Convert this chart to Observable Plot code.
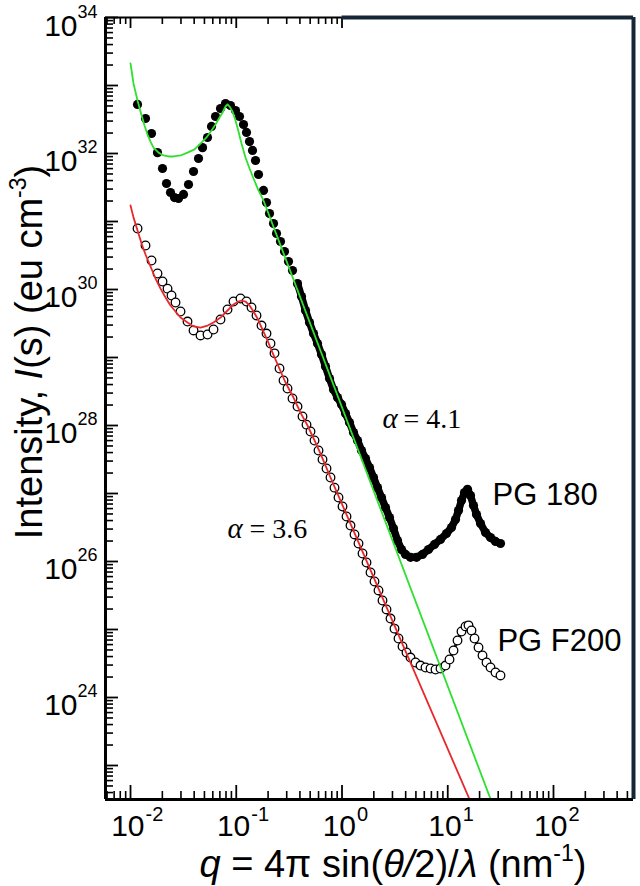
<!DOCTYPE html>
<html>
<head>
<meta charset="utf-8">
<script src="https://cdn.jsdelivr.net/npm/d3@7"></script>
<script src="https://cdn.jsdelivr.net/npm/@observablehq/plot@0.6"></script>
<style>
  html, body { margin: 0; padding: 0; background: #fff; }
  #chart { width: 640px; height: 886px; }
</style>
</head>
<body>
<div id="chart"></div>
<script>
// PG 180: scattering vector q (nm^-1) and intensity I (eu cm^-3), filled dots
const pg180Q = [0.01165,0.01386,0.0158,0.018,0.02007,0.0219,0.02389,0.02607,0.02843,0.03171,0.03536,0.03943,0.04395,0.04797,0.05348,0.05834,0.06366,0.07097,0.07911,0.08822,0.09838,0.1073,0.1171,0.125,0.1335,0.1425,0.1521,0.1623,0.181,0.1932,0.2063,0.2251,0.2403,0.262,0.286,0.312,0.3403,
  0.3795,0.414,0.4518,0.4928,0.5377,0.5866,0.6399,0.6982,0.7617,0.831,0.9067,0.9893,1.079,1.177,1.285,1.402,1.529,1.668,1.82,1.986,2.167,2.363,2.578,2.813,3.069,3.349,3.653,3.985,4.444,5.064,5.771,6.577,7.494,8.541,9.732,10.85,11.84,12.64,13.49,14.4,15.38,16.41,17.52,18.71,20.41,22.75,25.38,28.29,31.54];
const pg180I = [5.26e32,3.27e32,1.97e32,1.03e32,6.02e31,3.62e31,2.67e31,2.25e31,2.18e31,2.5e31,3.5e31,5.44e31,8.44e31,1.22e32,1.72e32,2.5e32,3.5e32,4.59e32,5.44e32,5.08e32,4.29e32,3.5e32,2.67e32,2.04e32,1.5e32,1.11e32,7.89e31,4.91e31,2.86e31,1.9e31,1.31e31,9.35e30,6.66e30,5.08e30,3.62e30,2.58e30,1.9e30,
  1.22e30,7.89e29,4.91e29,3.27e29,2.25e29,1.61e29,1.11e29,7.37e28,4.91e28,3.38e28,2.58e28,2.04e28,1.5e28,1.11e28,7.89e27,6.02e27,4.29e27,3.27e27,2.41e27,1.72e27,1.22e27,8.73e26,6.22e26,4.44e26,3.06e26,2.04e26,1.5e26,1.27e26,1.15e26,1.15e26,1.27e26,1.5e26,1.78e26,2.11e26,2.58e26,3.16e26,4.15e26,5.62e26,7.89e26,1.03e27,1.15e27,9.35e26,6.66e26,4.91e26,3.62e26,2.67e26,2.25e26,1.97e26,1.84e26];

// PG F200: open circles
const pgF200Q = [0.01165,0.01386,0.0158,0.018,0.02007,0.02239,0.02442,0.02664,0.0297,0.03459,0.03943,0.04591,0.05348,0.06094,0.07097,0.0827,0.09419,0.1097,0.125,0.1394,0.1554,0.1733,0.1932,0.2108,0.23,0.2565,0.2798,0.3052,0.3403,0.3795,0.4231,0.4616,0.5036,0.5495,0.5995,0.654,0.7136,0.7785,
  0.8494,0.9266,1.011,1.103,1.203,1.313,1.432,1.563,1.705,1.86,2.029,2.214,2.415,2.635,2.875,3.137,3.423,3.734,4.073,4.444,4.955,5.526,6.162,6.869,7.66,8.541,9.522,10.39,11.34,12.37,13.49,14.72,15.71,16.77,17.91,19.54,21.32,23.26,25.38,28.29,31.54];
const pgF200I = [7.89e30,4.44e30,2.67e30,1.72e30,1.31e30,1.03e30,8.16e29,6.44e29,4.75e29,3.38e29,2.5e29,2.11e29,2.18e29,2.58e29,3.62e29,5.08e29,6.66e29,7.37e29,6.66e29,5.44e29,4.15e29,2.95e29,2.25e29,1.61e29,1.15e29,6.89e28,4.59e28,3.5e28,2.5e28,1.9e28,1.36e28,1.03e28,8.16e27,6.02e27,4.29e27,3.16e27,2.33e27,1.72e27,
  1.22e27,8.73e26,6.44e26,4.59e26,3.38e26,2.5e26,1.84e26,1.31e26,9.67e25,6.89e25,5.08e25,3.75e25,2.67e25,1.97e25,1.45e25,1.03e25,7.37e24,5.62e24,4.59e24,3.87e24,3.27e24,2.95e24,2.76e24,2.67e24,2.58e24,2.67e24,2.95e24,3.62e24,4.91e24,6.89e24,9.35e24,1.11e25,1.15e25,9.67e24,7.37e24,5.44e24,4.15e24,3.27e24,2.76e24,2.33e24,2.11e24];

// Model fits: green for PG 180 (power-law tail, alpha = 4.1), red for PG F200 (alpha = 3.6)
const fit180Q = [0.01,0.01067,0.01165,0.01243,0.01356,0.01448,0.01546,0.01651,0.0184,0.02051,0.02288,0.02551,0.0297,0.03459,0.0403,0.04591,0.05233,0.05834,0.06366,0.06944,0.07413,0.07911,0.0827,0.08636,0.09216,0.09838,0.105,0.1121,0.1223,0.1335,0.1456,0.1623,0.181,25.5];
const fit180I = [2.11e33,1.07e33,6.02e32,4.15e32,2.58e32,1.9e32,1.5e32,1.22e32,1.03e32,9.35e31,9.04e31,9.04e31,9.35e31,1.03e32,1.15e32,1.4e32,1.72e32,2.18e32,2.67e32,3.38e32,4.01e32,4.91e32,5.26e32,4.91e32,4.15e32,3.06e32,2.11e32,1.4e32,8.73e31,6.02e31,4.29e31,2.86e31,2.04e31,3.16e22];
const fitF200Q = [0.01,0.01067,0.01165,0.01271,0.01386,0.01546,0.01724,0.01922,0.02143,0.02389,0.02664,0.0297,0.03459,0.03943,0.04591,0.05348,0.06094,0.07097,0.0827,0.09419,0.105,0.1121,0.1223,0.1335,0.1456,0.1588,0.1771,0.1974,0.2202,0.2509,0.2922,0.3478,0.4052,0.4718,0.5495,0.6262,0.7785,16.1];
const fitF200I = [1.72e31,1.15e31,7.37e30,4.75e30,3.27e30,2.18e30,1.45e30,1.03e30,7.63e29,5.82e29,4.75e29,3.87e29,3.27e29,2.86e29,2.76e29,2.95e29,3.27e29,3.87e29,4.91e29,6.02e29,6.66e29,6.89e29,6.66e29,5.82e29,4.75e29,3.75e29,2.58e29,1.78e29,1.18e29,7.37e28,4.29e28,2.58e28,1.55e28,1.0e28,6.02e27,3.87e27,1.72e27,3.16e22];

// Labelled decades on each axis
const xTickLabels = [1e-2, 1e-1, 1e0, 1e1, 1e2];
const yTickLabels = [1e24, 1e26, 1e28, 1e30, 1e32, 1e34];

const xDomain = [0.0058, 571];
const yDomain = [3.162e22, 1e34];

const sans = "'Liberation Sans', Arial, Helvetica, sans-serif";
const serif = "'Liberation Serif', 'Times New Roman', serif";

const W = 640, H = 886, mL = 105, mR = 7, mT = 17, mB = 87;
const FW = W - mL - mR, FH = H - mT - mB;

const rows = (Q, I) => Q.map((q, i) => ({q, I: I[i]}));
const pg180 = rows(pg180Q, pg180I);
const pgF200 = rows(pgF200Q, pgF200I);
const fit180 = rows(fit180Q, fit180I);
const fitF200 = rows(fitF200Q, fitF200I);

const isDecade = v => Math.abs(Math.log10(v) - Math.round(Math.log10(v))) < 1e-6;
const xTicks = d3.scaleLog().domain(xDomain).ticks(30);
const yTicks = d3.scaleLog().domain(yDomain).ticks(60);
const expo = d => String(Math.round(Math.log10(d)));

const ink = "#000";
const navy = "#142638";

const plot = Plot.plot({
  width: W, height: H,
  marginLeft: mL, marginRight: mR, marginTop: mT, marginBottom: mB,
  style: {background: "#fff", fontFamily: sans},
  x: {type: "log", domain: xDomain, axis: null},
  y: {type: "log", domain: yDomain, axis: null},
  marks: [
    // measured intensities (dense high-q runs drawn as a band under the symbols)
    Plot.line(pg180.filter(d => d.q >= 0.37), {x: "q", y: "I", stroke: ink, strokeWidth: 7.5, strokeLinejoin: "round", strokeLinecap: "round"}),
    Plot.dot(pg180, {x: "q", y: "I", r: 4.6, fill: ink, stroke: "none"}),
    Plot.line(pgF200.filter(d => d.q >= 0.8), {x: "q", y: "I", stroke: "#222", strokeWidth: 3, strokeLinejoin: "round"}),
    Plot.dot(pgF200, {x: "q", y: "I", r: 4.3, fill: "#fff", stroke: ink, strokeWidth: 1.3}),
    // fitted curves
    Plot.line(fit180, {x: "q", y: "I", stroke: "#2fe02f", strokeWidth: 1.8, clip: true}),
    Plot.line(fitF200, {x: "q", y: "I", stroke: "#e8282a", strokeWidth: 1.8, clip: true}),

    // inward ticks: bottom
    Plot.tickX(xTicks.filter(v => !isDecade(v)), {x: d => d, insetTop: FH - 8, stroke: ink, strokeWidth: 1.6}),
    Plot.tickX(xTicks.filter(isDecade), {x: d => d, insetTop: FH - 14, stroke: ink, strokeWidth: 1.8}),
    // top ticks stop at q = 1
    Plot.tickX(xTicks.filter(v => v <= 1.0001 && !isDecade(v)), {x: d => d, insetBottom: FH - 7, stroke: ink, strokeWidth: 1.6}),
    Plot.tickX(xTicks.filter(v => v <= 1.0001 && isDecade(v)), {x: d => d, insetBottom: FH - 11, stroke: ink, strokeWidth: 1.8}),
    // left ticks
    Plot.tickY(yTicks.filter(v => !isDecade(v)), {y: d => d, insetRight: FW - 8, stroke: ink, strokeWidth: 1.6}),
    Plot.tickY(yTicks.filter(isDecade), {y: d => d, insetRight: FW - 13, stroke: ink, strokeWidth: 1.8}),

    // frame
    Plot.ruleY([yDomain[1]], {x1: xDomain[0], x2: 1, stroke: ink, strokeWidth: 2}),
    Plot.ruleY([yDomain[1]], {x1: 1, x2: xDomain[1], stroke: navy, strokeWidth: 4}),
    Plot.ruleX([xDomain[1]], {stroke: navy, strokeWidth: 4}),
    Plot.ruleX([xDomain[0]], {stroke: ink, strokeWidth: 3}),
    Plot.ruleY([yDomain[0]], {stroke: ink, strokeWidth: 3}),

    // tick labels 10^n
    Plot.text(xTickLabels, {x: d => d, frameAnchor: "bottom", text: () => "10", textAnchor: "end", lineAnchor: "bottom", dx: 14, dy: 36, fontSize: 30, fill: ink}),
    Plot.text(xTickLabels, {x: d => d, frameAnchor: "bottom", text: expo, textAnchor: "start", lineAnchor: "bottom", dx: 15, dy: 21, fontSize: 20, fill: ink}),
    Plot.text(yTickLabels, {y: d => d, frameAnchor: "left", text: () => "10", textAnchor: "end", lineAnchor: "bottom", dx: -28, dy: 18, fontSize: 30, fill: ink}),
    Plot.text(yTickLabels, {y: d => d, frameAnchor: "left", text: expo, textAnchor: "start", lineAnchor: "bottom", dx: -28, dy: 0, fontSize: 18, fill: ink}),

    // slope annotations
    Plot.text([0], {x: 2.41, y: 9.33e27, text: () => "α", textAnchor: "start", lineAnchor: "bottom", fontFamily: serif, fontStyle: "italic", fontSize: 29, fill: ink}),
    Plot.text([0], {x: 2.41, y: 9.33e27, text: () => "= 4.1", textAnchor: "start", lineAnchor: "bottom", dx: 21, fontFamily: serif, fontSize: 28, fill: ink}),
    Plot.text([0], {x: 0.0827, y: 2.25e26, text: () => "α", textAnchor: "start", lineAnchor: "bottom", fontFamily: serif, fontStyle: "italic", fontSize: 29, fill: ink}),
    Plot.text([0], {x: 0.0827, y: 2.25e26, text: () => "= 3.6", textAnchor: "start", lineAnchor: "bottom", dx: 22, fontFamily: serif, fontSize: 28, fill: ink}),
    // sample names
    Plot.text([0], {x: 26.5, y: 6.67e26, text: () => "PG 180", textAnchor: "start", lineAnchor: "bottom", fontSize: 31, fill: ink}),
    Plot.text([0], {x: 29.5, y: 4.91e24, text: () => "PG F200", textAnchor: "start", lineAnchor: "bottom", fontSize: 31, fill: ink})
  ]
});

const svg = d3.select(plot);

// x-axis title
svg.append("text")
  .attr("x", 393).attr("y", 877)
  .attr("text-anchor", "middle")
  .attr("fill", ink)
  .style("font-family", sans).style("font-size", "38px")
  .call(t => {
    t.append("tspan").attr("font-style", "italic").text("q");
    t.append("tspan").text(" = 4π sin(");
    t.append("tspan").attr("font-style", "italic").text("θ/");
    t.append("tspan").text("2)/");
    t.append("tspan").attr("font-style", "italic").text("λ");
    t.append("tspan").text(" (nm");
    t.append("tspan").attr("dy", -16).attr("font-size", 23).text("-1");
    t.append("tspan").attr("dy", 16).text(")");
  });

// y-axis title
svg.append("text")
  .attr("transform", "translate(42,352) rotate(-90)")
  .attr("text-anchor", "middle")
  .attr("fill", ink)
  .style("font-family", sans).style("font-size", "38px")
  .call(t => {
    t.append("tspan").text("Intensity, ");
    t.append("tspan").attr("font-style", "italic").text("I");
    t.append("tspan").text("(s) (eu cm");
    t.append("tspan").attr("dy", -16).attr("font-size", 23).text("-3");
    t.append("tspan").attr("dy", 16).text(")");
  });

document.getElementById("chart").appendChild(plot);
</script>
</body>
</html>
